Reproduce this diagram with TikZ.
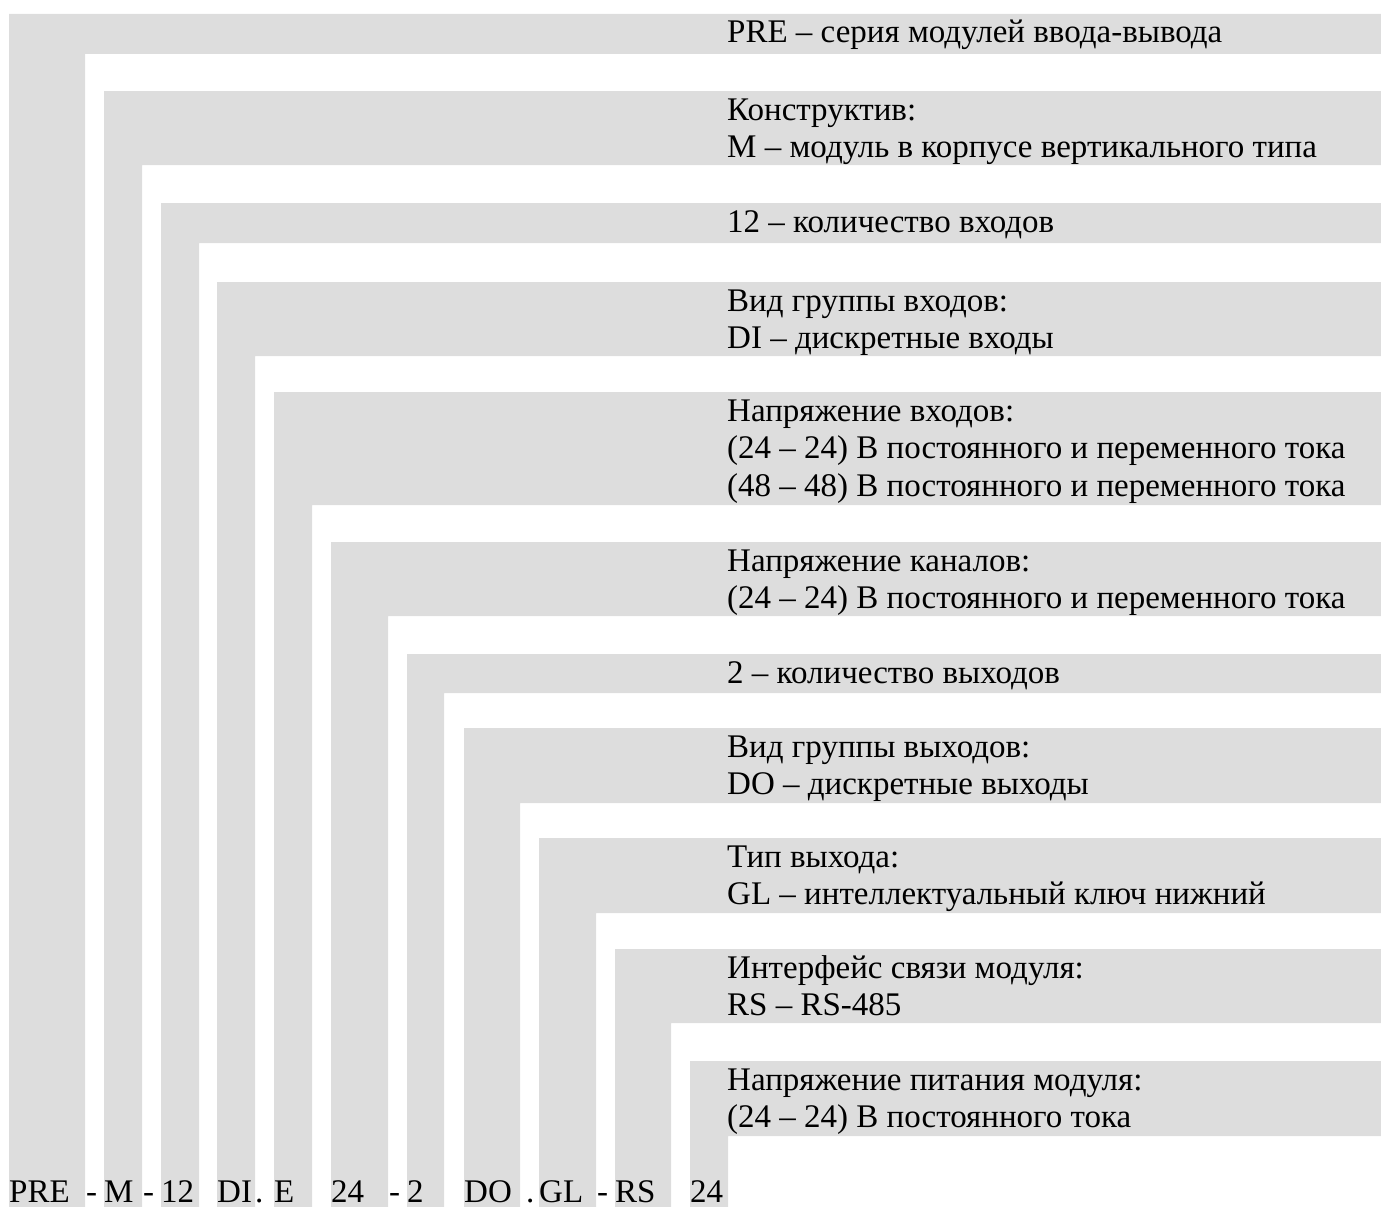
\documentclass[tikz,border=0pt]{standalone}
\usepackage{fontspec}
\setmainfont{Liberation Serif}
\definecolor{bandgray}{HTML}{DDDDDD}
\tikzset{
  descr/.style={anchor=base west, inner sep=0pt, align=left,
    font=\fontsize{33}{37.5}\selectfont},
  code/.style={anchor=base west, inner sep=0pt,
    font=\fontsize{33}{37.5}\selectfont}
}
\begin{document}
\begin{tikzpicture}[x=1pt,y=-1pt]
\useasboundingbox (0,0) rectangle (1381,1207);
% L-shaped bands: column left/right, band top/bottom
\foreach \l/\r/\t/\b in {9/85/14/54, 104/142/91/165, 161/199/203/243,
    217/255/282/356, 274/312/392/505, 331/388/542/616, 407/444/654/693,
    464/520/728/803, 539/596/838/913, 615/671/949/1023, 690/728/1061/1136}{
  \fill[bandgray] (\l,\t) -- (1381,\t) -- (1381,\b) -- (\r,\b)
    -- (\r,1207) -- (\l,1207) -- cycle;
}
% descriptions (anchored at the baseline of the last line)
\node[descr] (pre) at (727,43) {PRE – серия модулей ввода-вывода};
\node[descr] (constr) at (727,157.5) {Конструктив:\\М – модуль в корпусе вертикального типа};
\node[descr] (nin) at (727,232) {12 – количество входов};
\node[descr] (ingroup) at (727,348.5) {Вид группы входов:\\DI – дискретные входы};
\node[descr] (involt) at (727,496) {Напряжение входов:\\(24 – 24) В постоянного и переменного тока\\(48 – 48) В постоянного и переменного тока};
\node[descr] (chvolt) at (727,608.5) {Напряжение каналов:\\(24 – 24) В постоянного и переменного тока};
\node[descr] (nout) at (727,683) {2 – количество выходов};
\node[descr] (outgroup) at (727,794.5) {Вид группы выходов:\\DO – дискретные выходы};
\node[descr] (outtype) at (727,904.5) {Тип выхода:\\GL – интеллектуальный ключ нижний};
\node[descr] (iface) at (727,1015.5) {Интерфейс связи модуля:\\RS – RS-485};
\node[descr] (supply) at (727,1127.5) {Напряжение питания модуля:\\(24 – 24) В постоянного тока};
% code line
\foreach \x/\c/\n in {9/PRE/pre, 104/M/m, 161/12/nin, 217/DI/di, 274/E/e,
    331/24/involt, 407/2/nout, 464/DO/do, 539/GL/gl, 615/RS/rs, 690/24/supply}{
  \node[code] (c\n) at (\x,1202) {\c};
}
\foreach \x/\c/\n in {86/-/1, 143/-/2, 255/./3, 389/-/4, 526/./5, 597/-/6}{
  \node[code] (s\n) at (\x,1202) {\c};
}
\end{tikzpicture}
\end{document}
